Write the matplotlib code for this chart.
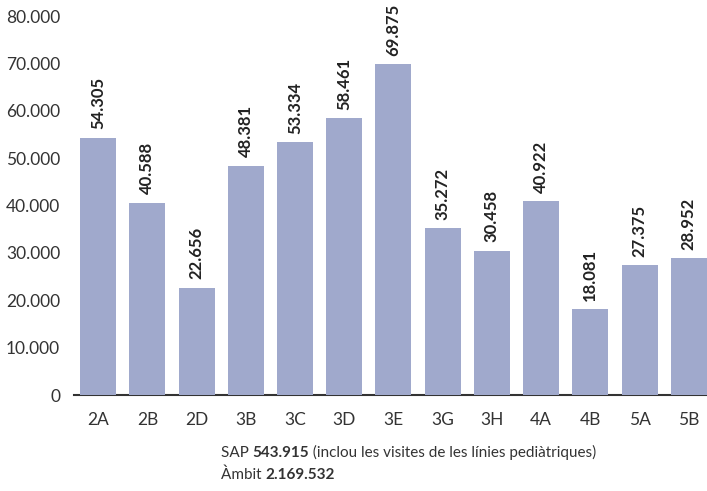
import matplotlib.pyplot as plt
from matplotlib.ticker import FuncFormatter

plt.rcParams['font.family'] = ['Lato', 'DejaVu Sans']

categories = ['2A', '2B', '2D', '3B', '3C', '3D', '3E', '3G', '3H', '4A', '4B', '5A', '5B']
visits = [54305, 40588, 22656, 48381, 53334, 58461, 69875, 35272, 30458, 40922, 18081, 27375, 28952]
yticks = [0, 10000, 20000, 30000, 40000, 50000, 60000, 70000, 80000]

fig = plt.figure(figsize=(7.07, 4.91), dpi=100)
ax = fig.add_axes([0.1047, 0.1955, 0.8953, 0.7719])

x = range(len(categories))
ax.bar(x, visits, width=0.73, color='#a0a9cc', zorder=2)

# value labels above bars
for xi, v in zip(x, visits):
    ax.annotate(f'{v:,}'.replace(',', '.'), (xi, v), xytext=(0, 6),
                textcoords='offset points', rotation=90, ha='center', va='bottom',
                fontsize=12, fontweight='bold', color='#222222')

ax.set_xlim(-0.49, 12.37)
ax.set_ylim(0, 80000)
ax.set_yticks(yticks)
ax.yaxis.set_major_formatter(FuncFormatter(lambda v, p: f'{int(v):,}'.replace(',', '.')))
ax.set_xticks(list(x))
ax.set_xticklabels(categories)
ax.tick_params(axis='y', length=0, labelsize=12.5, labelcolor='#333333', pad=10)
ax.tick_params(axis='x', length=0, labelsize=12.5, labelcolor='#333333', pad=12)

for s in ['top', 'right', 'left']:
    ax.spines[s].set_visible(False)
ax.spines['bottom'].set_color('#333333')
ax.spines['bottom'].set_linewidth(1.5)
ax.spines['bottom'].set_zorder(1)

# footnote lines with mixed weights
fs = 11
t1 = fig.text(221 / 707, 1 - 453 / 491, 'SAP ', fontsize=fs, color='#333333', va='center')
t2 = ax.annotate('543.915', xy=(1, 0), xycoords=t1, va='bottom', fontsize=fs,
                 fontweight='bold', color='#333333')
ax.annotate(' (inclou les visites de les línies pediàtriques)', xy=(1, 0), xycoords=t2,
            va='bottom', fontsize=fs, color='#333333')
t4 = fig.text(221 / 707, 1 - 475 / 491, 'Àmbit ', fontsize=fs, color='#333333', va='center')
ax.annotate('2.169.532', xy=(1, 0), xycoords=t4, va='bottom', fontsize=fs,
            fontweight='bold', color='#333333')

fig.savefig('out.png', dpi=100)
